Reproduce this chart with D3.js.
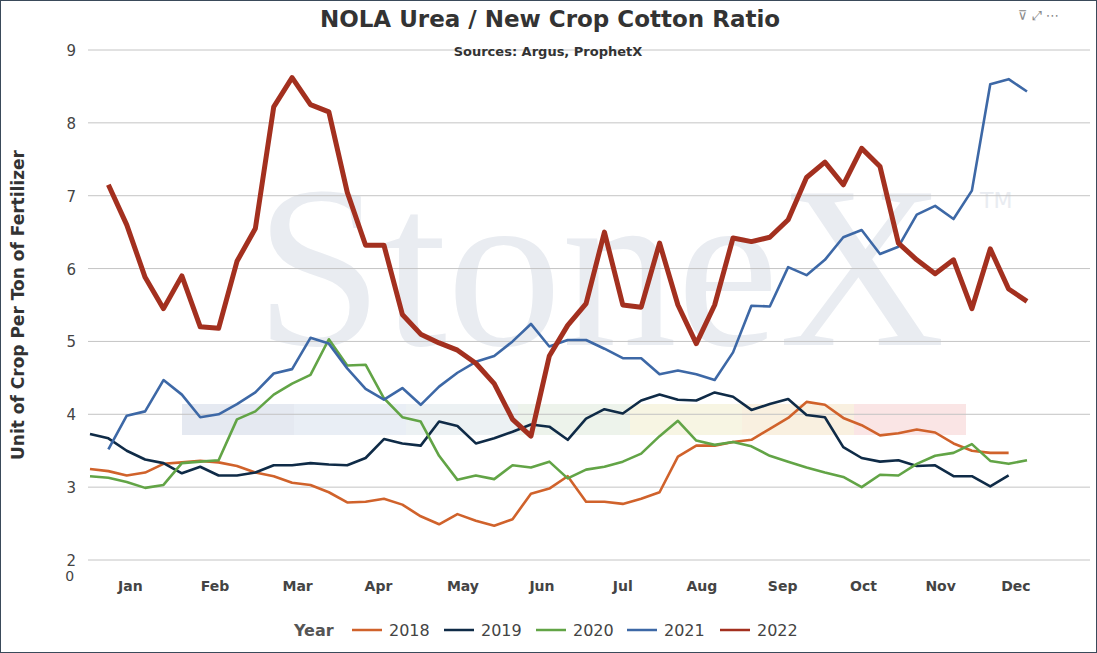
<!DOCTYPE html>
<html><head><meta charset="utf-8">
<script src="https://cdn.jsdelivr.net/npm/d3@7"></script>
<style>body{margin:0;background:#fff;font-family:Verdana,"DejaVu Sans",sans-serif}</style>
</head><body><svg id="c" width="1097" height="653"></svg>
<script>
const years=["2018","2019","2020","2021","2022"];
const colors=["#d0622b","#0f2b47","#62a446","#3d68a6","#a3301f"];
const months=["Jan","Feb","Mar","Apr","May","Jun","Jul","Aug","Sep","Oct","Nov","Dec"];
const monthWeeks=[2.2,6.8,11.3,15.7,20.3,24.6,29.0,33.3,37.7,42.1,46.3,50.4];
const yTicks=[2,3,4,5,6,7,8,9];
const s2018=[3.25,3.22,3.16,3.2,3.32,3.34,3.36,3.34,3.29,3.2,3.15,3.06,3.03,2.93,2.79,2.8,2.84,2.76,2.6,2.49,2.63,2.54,2.47,2.56,2.91,2.98,3.15,2.8,2.8,2.77,2.84,2.93,3.42,3.57,3.57,3.62,3.65,3.8,3.95,4.17,4.13,3.95,3.85,3.71,3.74,3.79,3.75,3.6,3.5,3.47,3.47];
const s2019=[3.73,3.67,3.5,3.38,3.33,3.19,3.28,3.16,3.16,3.2,3.3,3.3,3.33,3.31,3.3,3.4,3.66,3.6,3.57,3.9,3.84,3.6,3.67,3.76,3.86,3.83,3.65,3.94,4.07,4.01,4.19,4.27,4.2,4.19,4.3,4.24,4.06,4.14,4.21,3.99,3.96,3.55,3.4,3.35,3.37,3.29,3.3,3.15,3.15,3.01,3.16];
const s2020=[3.15,3.13,3.07,2.99,3.03,3.33,3.35,3.37,3.93,4.04,4.27,4.42,4.54,5.03,4.67,4.68,4.22,3.96,3.9,3.43,3.1,3.16,3.11,3.3,3.27,3.35,3.12,3.24,3.28,3.35,3.46,3.7,3.91,3.64,3.58,3.62,3.56,3.43,3.35,3.27,3.2,3.14,3.0,3.17,3.16,3.32,3.43,3.47,3.59,3.36,3.32,3.37];
const s2021=[null,3.52,3.98,4.04,4.47,4.27,3.96,4.0,4.14,4.3,4.56,4.62,5.05,4.97,4.63,4.35,4.2,4.36,4.13,4.38,4.57,4.72,4.8,5.0,5.24,4.93,5.02,5.02,4.9,4.77,4.77,4.55,4.6,4.55,4.47,4.85,5.49,5.48,6.02,5.91,6.12,6.43,6.53,6.2,6.3,6.74,6.86,6.68,7.07,8.53,8.6,8.43];
const s2022=[null,7.15,6.6,5.88,5.45,5.9,5.2,5.18,6.1,6.55,8.22,8.62,8.25,8.15,7.05,6.32,6.32,5.37,5.1,4.98,4.88,4.7,4.42,3.93,3.7,4.8,5.22,5.52,6.5,5.5,5.47,6.35,5.5,4.97,5.5,6.42,6.37,6.43,6.67,7.25,7.46,7.15,7.65,7.4,6.35,6.12,5.93,6.12,5.45,6.27,5.72,5.55];
const series=[s2018,s2019,s2020,s2021,s2022];

const svg=d3.select("#c");
svg.append("rect").attr("x",0.5).attr("y",0.5).attr("width",1096).attr("height",652).attr("fill","#fff").attr("stroke","#3a4a5a");
const x=d3.scaleLinear().domain([0,51]).range([90,1027]);
const y=d3.scaleLinear().domain([2,9]).range([560,50]);
svg.append("text").attr("x",600).attr("y",345).attr("text-anchor","middle").attr("font-family","Liberation Serif,serif").attr("font-size",230).attr("fill","#e9ecf1").text("StoneX");
svg.append("text").attr("x",980).attr("y",208).attr("font-size",22).attr("fill","#e9ecf1").text("TM");
const bands=["#dfe4ee","#e4eaf3","#e7edf0","#e8f0e6","#f5f2dc","#f8ecd8","#f9dede"];
bands.forEach((c,i)=>svg.append("rect").attr("x",182+i*112).attr("y",404).attr("width",112).attr("height",31).attr("fill",c).attr("opacity",0.8));
yTicks.forEach(t=>{
 svg.append("line").attr("x1",88).attr("x2",1090).attr("y1",y(t)).attr("y2",y(t)).attr("stroke","#c4c4c4");
 svg.append("text").attr("x",76).attr("y",y(t)+6).attr("text-anchor","end").attr("font-size",15).attr("fill","#444").text(t);
});
svg.append("text").attr("x",x(-1.1)).attr("y",581).attr("text-anchor","middle").attr("font-size",14).attr("fill","#444").text("0");
months.forEach((m,i)=>svg.append("text").attr("x",x(monthWeeks[i])).attr("y",591).attr("text-anchor","middle").attr("font-size",14).attr("font-weight","bold").attr("fill","#444").text(m));
const line=d3.line().defined(d=>d!=null).x((d,i)=>x(i)).y(d=>y(d));
series.forEach((s,k)=>svg.append("path").attr("d",line(s)).attr("fill","none").attr("stroke",colors[k]).attr("stroke-width",k==4?5:2.6).attr("stroke-linejoin","round"));
svg.append("text").attr("x",550).attr("y",27).attr("text-anchor","middle").attr("font-size",23).attr("font-weight","bold").attr("fill","#333").text("NOLA Urea / New Crop Cotton Ratio");
svg.append("text").attr("x",548).attr("y",56).attr("text-anchor","middle").attr("font-size",13).attr("font-weight","bold").attr("fill","#333").text("Sources: Argus, ProphetX");
svg.append("text").attr("transform","translate(24,305) rotate(-90)").attr("text-anchor","middle").attr("font-size",17).attr("font-weight","bold").attr("fill","#333").text("Unit of Crop Per Ton of Fertilizer");
svg.append("text").attr("x",294).attr("y",636).attr("font-size",16).attr("font-weight","bold").attr("fill","#555").text("Year");
const lx=[352,444,536,627,720];
years.forEach((yr,k)=>{
 svg.append("line").attr("x1",lx[k]).attr("x2",lx[k]+30).attr("y1",630).attr("y2",630).attr("stroke",colors[k]).attr("stroke-width",2.5);
 svg.append("text").attr("x",lx[k]+37).attr("y",636).attr("font-size",16).attr("fill","#444").text(yr);
});
svg.append("text").attr("x",1018).attr("y",20).attr("font-size",13).attr("fill","#888").text("⊽  ⤢  ⋯");
</script></body></html>
